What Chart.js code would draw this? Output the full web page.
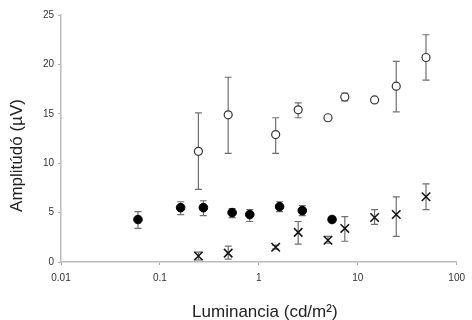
<!DOCTYPE html>
<html>
<head>
<meta charset="utf-8">
<script src="https://cdn.jsdelivr.net/npm/chart.js@4"></script>
<style>
    body { margin: 0; background: #fff; }
    canvas { display: block; }
</style>
</head>
<body>
<canvas id="lumChart" width="472" height="320"></canvas>
<script>
// 数据
const xTicks = [0.01, 0.1, 1, 10, 100];
const yTicks = [0, 5, 10, 15, 20, 25];
const xTitle = 'Luminancia (cd/m²)';
const yTitle = 'Amplitúdó (µV)';

// 空心圆
const openX  = [0.245, 0.49, 1.48, 2.5, 5.0, 7.4, 14.8, 24.5, 49];
const openY  = [11.2, 14.9, 12.9, 15.4, 14.6, 16.7, 16.4, 17.8, 20.7];
const openLo = [7.35, 11.0, 11.0, 14.6, 14.45, 16.3, 16.2, 15.2, 18.4];
const openHi = [15.1, 18.7, 14.6, 16.1, 14.75, 17.1, 16.6, 20.3, 23.0];

// 实心圆
const fillX  = [0.06, 0.162, 0.275, 0.537, 0.81, 1.62, 2.75, 5.5];
const fillY  = [4.3, 5.5, 5.5, 5.0, 4.8, 5.6, 5.2, 4.3];
const fillLo = [3.4, 4.8, 4.7, 4.5, 4.1, 5.1, 4.7, 4.0];
const fillHi = [5.1, 6.1, 6.2, 5.4, 5.3, 6.1, 5.7, 4.6];

// 叉号
const crossX  = [0.245, 0.49, 1.48, 2.5, 5.0, 7.4, 14.8, 24.5, 49];
const crossY  = [0.6, 0.9, 1.5, 3.0, 2.2, 3.4, 4.5, 4.8, 6.6];
const crossLo = [0.2, 0.3, 1.3, 1.8, 1.9, 2.1, 3.8, 2.6, 5.3];
const crossHi = [1.0, 1.6, 1.7, 4.1, 2.6, 4.6, 5.3, 6.6, 7.9];

function toPoints(xs, ys, lo, hi) {
    return xs.map((x, i) => ({ x: x, y: ys[i], lo: lo[i], hi: hi[i] }));
}

// 误差线插件
const errorBars = {
    id: 'errorBars',
    beforeDatasetsDraw(chart) {
        const ctx = chart.ctx;
        const xs = chart.scales.x;
        const ys = chart.scales.y;
        ctx.save();
        ctx.strokeStyle = '#707070';
        ctx.lineWidth = 1.2;
        chart.data.datasets.forEach(ds => {
            ds.data.forEach(p => {
                const px = xs.getPixelForValue(p.x);
                const top = ys.getPixelForValue(p.hi);
                const bot = ys.getPixelForValue(p.lo);
                ctx.beginPath();
                ctx.moveTo(px, top);
                ctx.lineTo(px, bot);
                ctx.moveTo(px - 3.5, top);
                ctx.lineTo(px + 3.5, top);
                ctx.moveTo(px - 3.5, bot);
                ctx.lineTo(px + 3.5, bot);
                ctx.stroke();
            });
        });
        ctx.restore();
    }
};

// 坐标轴标题（位置按原图微调）
const axisTitles = {
    id: 'axisTitles',
    afterDraw(chart) {
        const ctx = chart.ctx;
        const area = chart.chartArea;
        ctx.save();
        ctx.fillStyle = '#222';
        ctx.font = '17px "Liberation Sans"';
        ctx.textAlign = 'center';
        ctx.textBaseline = 'alphabetic';
        ctx.fillText(xTitle, (area.left + area.right) / 2 + 6, 317);
        ctx.translate(22, (area.top + area.bottom) / 2 + 17);
        ctx.rotate(-Math.PI / 2);
        ctx.fillText(yTitle, 0, 0);
        ctx.restore();
    }
};

const tickFont = { family: 'Liberation Sans', size: 10 };

new Chart(document.getElementById('lumChart'), {
    type: 'scatter',
    data: {
        datasets: [{
            data: toPoints(openX, openY, openLo, openHi),
            pointStyle: 'circle',
            pointRadius: 4,
            borderColor: '#333',
            backgroundColor: '#fff',
            borderWidth: 1.2
        }, {
            data: toPoints(fillX, fillY, fillLo, fillHi),
            pointStyle: 'circle',
            pointRadius: 4.3,
            borderColor: '#000',
            backgroundColor: '#000',
            borderWidth: 1
        }, {
            data: toPoints(crossX, crossY, crossLo, crossHi),
            pointStyle: 'crossRot',
            pointRadius: 6,
            borderColor: '#111',
            backgroundColor: '#111',
            borderWidth: 1.5
        }]
    },
    options: {
        responsive: false,
        animation: false,
        events: [],
        layout: { padding: { top: 15, right: 10, left: 0, bottom: 0 } },
        plugins: {
            legend: { display: false },
            tooltip: { enabled: false }
        },
        scales: {
            x: {
                type: 'logarithmic',
                min: 0.01,
                max: 100,
                afterBuildTicks: s => { s.ticks = xTicks.map(v => ({ value: v })); },
                afterFit: s => { s.height = 58; },
                ticks: {
                    autoSkip: false,
                    maxRotation: 0,
                    padding: 7,
                    color: '#333',
                    font: tickFont,
                    callback: v => String(v)
                },
                grid: { drawOnChartArea: false, tickLength: 3, color: '#aaa' },
                border: { color: '#bbb', width: 1.5 }
            },
            y: {
                min: 0,
                max: 25,
                afterBuildTicks: s => { s.ticks = yTicks.map(v => ({ value: v })); },
                afterFit: s => { s.width = 61; },
                ticks: {
                    padding: 4,
                    color: '#333',
                    font: tickFont
                },
                grid: { drawOnChartArea: false, tickLength: 3, color: '#aaa' },
                border: { color: '#bbb', width: 1.5 }
            }
        }
    },
    plugins: [errorBars, axisTitles]
});
</script>
</body>
</html>
